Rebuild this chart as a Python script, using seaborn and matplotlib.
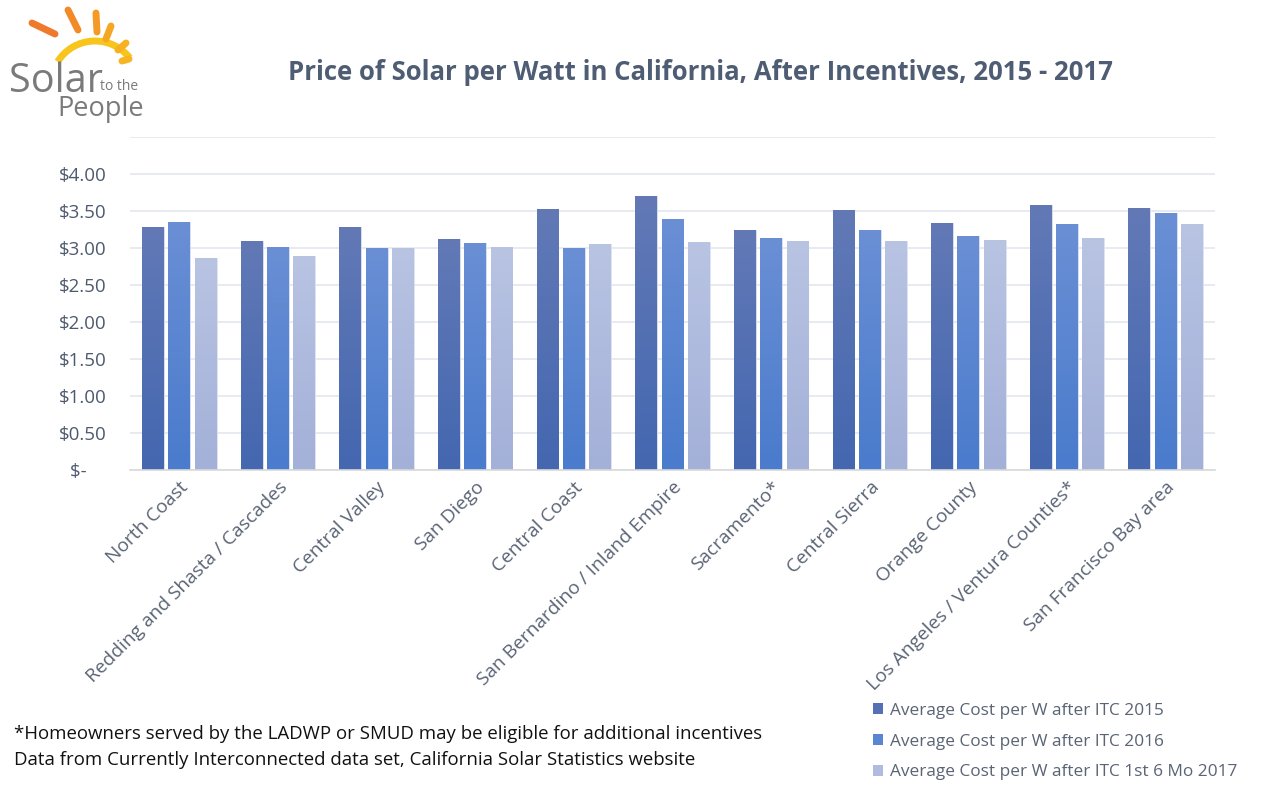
import numpy as np
import pandas as pd
import matplotlib
matplotlib.use("Agg")
import matplotlib.pyplot as plt
import seaborn as sns
from matplotlib.patches import Patch, Arc
from matplotlib.colors import LinearSegmentedColormap

regions = ["North Coast", "Redding and Shasta / Cascades", "Central Valley", "San Diego",
           "Central Coast", "San Bernardino / Inland Empire", "Sacramento*", "Central Sierra",
           "Orange County", "Los Angeles / Ventura Counties*", "San Francisco Bay area"]
series = ["Average Cost per W after ITC 2015", "Average Cost per W after ITC 2016",
          "Average Cost per W after ITC 1st 6 Mo 2017"]
cost_2015 = [3.29, 3.10, 3.29, 3.12, 3.53, 3.70, 3.24, 3.52, 3.34, 3.58, 3.54]
cost_2016 = [3.35, 3.01, 3.00, 3.07, 3.00, 3.39, 3.14, 3.24, 3.16, 3.32, 3.47]
cost_2017 = [2.87, 2.89, 3.00, 3.01, 3.06, 3.08, 3.09, 3.09, 3.11, 3.14, 3.33]
y_ticks = [0, 0.5, 1.0, 1.5, 2.0, 2.5, 3.0, 3.5, 4.0, 4.5]
y_labels = ["$-    ", "$0.50", "$1.00", "$1.50", "$2.00", "$2.50", "$3.00", "$3.50", "$4.00", ""]

top_cols = ["#6279b6", "#6a8fd5", "#b9c4e3"]
bot_cols = ["#4467b0", "#4a7bcc", "#a3b0d8"]
mid_cols = ["#5570b4", "#5a86d1", "#b0bcdf"]

df = pd.DataFrame({
    "region": np.repeat(regions, 3),
    "series": series * len(regions),
    "value": np.ravel(np.column_stack([cost_2015, cost_2016, cost_2017])),
})

sns.set_theme(style="white")
plt.rcParams["font.family"] = ["Open Sans", "DejaVu Sans"]

fig = plt.figure(figsize=(12.69, 7.91), dpi=100)
ax = fig.add_axes([130/1269, 1-470/791, (1215-130)/1269, (470-137)/791])

sns.barplot(data=df, x="region", y="value", hue="series", hue_order=series,
            palette=mid_cols, width=0.8, gap=0.17, ax=ax, legend=False,
            edgecolor="#dfe5f2", linewidth=0.6)

# gradient fill clipped to each bar
for i, container in enumerate(ax.containers):
    cmap = LinearSegmentedColormap.from_list("g", [bot_cols[i], top_cols[i]])
    for patch in container.patches:
        x0, y0 = patch.get_x(), patch.get_y()
        w, h = patch.get_width(), patch.get_height()
        grad = np.linspace(0, 1, 100).reshape(-1, 1)
        im = ax.imshow(grad, cmap=cmap, aspect="auto", origin="lower",
                       extent=[x0, x0 + w, y0, y0 + h], zorder=patch.get_zorder() + 0.1)
        im.set_clip_path(patch)

ax.set_xlim(-0.5, len(regions) - 0.5)
ax.set_ylim(0, 4.5)
ax.set_yticks(y_ticks)
ax.set_yticklabels(y_labels)
ax.yaxis.grid(True, color="#e3e6ec", linewidth=1.2)
ax.set_axisbelow(True)
for s in ["top", "right", "left"]:
    ax.spines[s].set_visible(False)
ax.spines["bottom"].set_color("#d9d9d9")
ax.spines["bottom"].set_linewidth(1.2)
ax.set_xlabel("")
ax.set_ylabel("")
ax.tick_params(axis="y", length=0, pad=17, labelsize=13.5, labelcolor="#4d5a6e")
ax.tick_params(axis="x", length=0, pad=6, labelsize=13.8, labelcolor="#5a6475")
plt.setp(ax.get_xticklabels(), rotation=45, ha="right", rotation_mode="anchor")

fig.text(701/1269, 1-72/791, "Price of Solar per Watt in California, After Incentives, 2015 - 2017",
         ha="center", va="center", fontsize=18.5, fontweight="bold", color="#4e5d73")

fig.text(14/1269, 1-734/791,
         "*Homeowners served by the LADWP or SMUD may be eligible for additional incentives",
         ha="left", va="center", fontsize=13.4, color="#111111")
fig.text(14/1269, 1-760/791,
         "Data from Currently Interconnected data set, California Solar Statistics website",
         ha="left", va="center", fontsize=13.4, color="#111111")

handles = [Patch(facecolor=c, edgecolor="none") for c in mid_cols]
leg = fig.legend(handles, series, loc="upper left", bbox_to_anchor=(866/1269, 1-696/791),
                 frameon=False, fontsize=12.4, handlelength=0.6, handleheight=0.6,
                 handletextpad=0.4, labelspacing=0.85, borderaxespad=0)
for t in leg.get_texts():
    t.set_color("#5a6475")

# logo
lax = fig.add_axes([0, 1-140/791, 160/1269, 140/791])
lax.set_xlim(0, 160)
lax.set_ylim(140, 0)
lax.axis("off")
cx, cy = 95, 85
rays = [((32, 23), (55, 34), "#f07a2c"), ((68, 10), (78, 30), "#f38a28"),
        ((96, 13), (97, 32), "#f59a26"), ((111, 26), (106, 39), "#f5a623"),
        ((126, 43), (118, 50), "#f7b021"), ((129, 59), (122, 61), "#f7b521")]
for (p0, p1, c) in rays:
    lax.plot([p0[0], p1[0]], [p0[1], p1[1]], color=c, lw=5, solid_capstyle="round")
arc = Arc((cx, cy), 88, 88, theta1=212, theta2=322, color="#f8c51c", lw=5)
lax.add_patch(arc)
lax.text(9, 92, "Solar", fontsize=28.5, color="#7a7a7a", ha="left", va="baseline")
lax.text(100, 90, "to the", fontsize=10, color="#7a7a7a", ha="left", va="baseline")
lax.text(57, 116, "People", fontsize=19.5, color="#7a7a7a", ha="left", va="baseline")

fig.savefig("out.png", dpi=100)
